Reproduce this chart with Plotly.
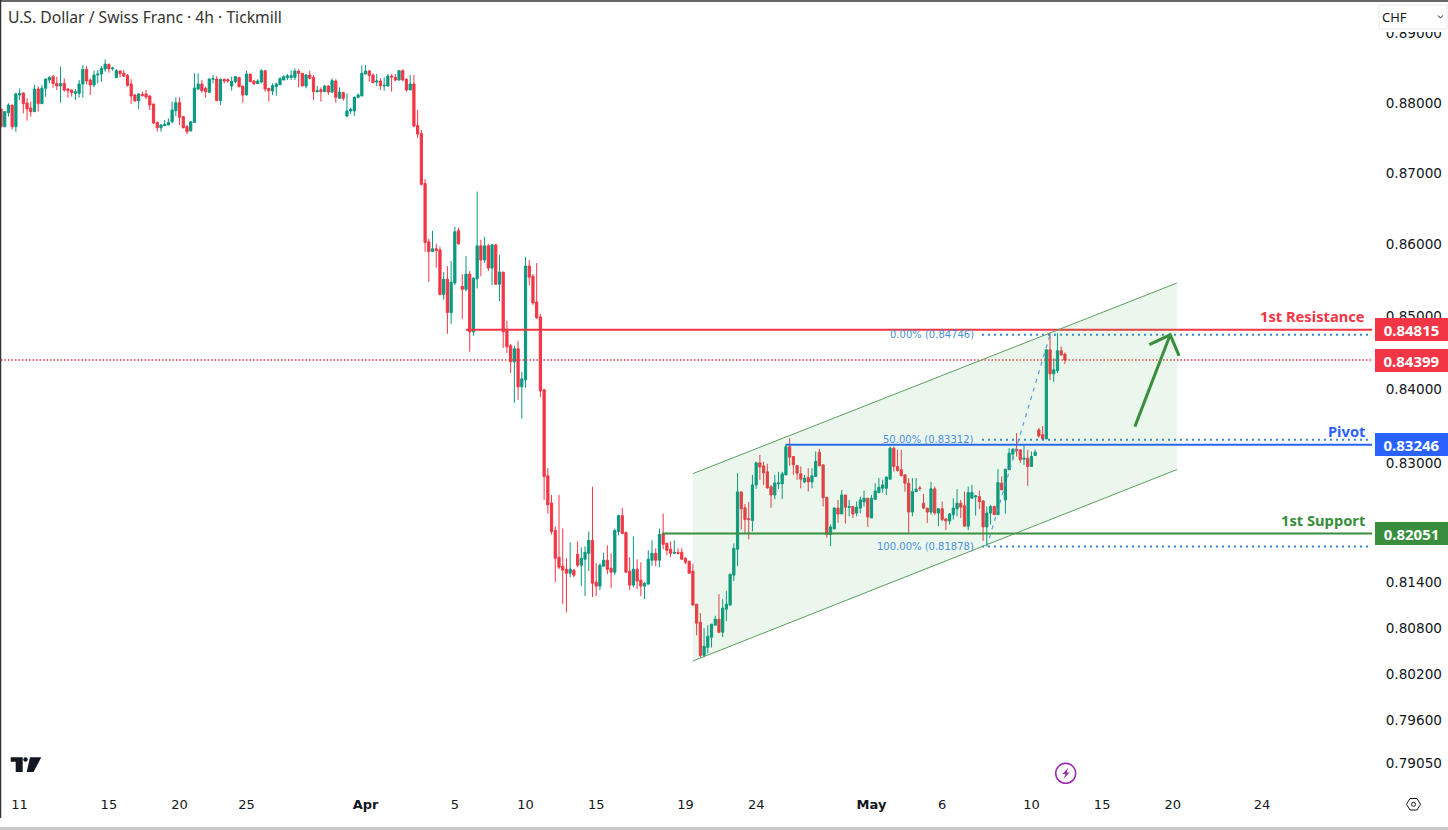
import numpy as np
import plotly.graph_objects as go

# USDCHF 4h candles
opens = [0.87914,0.87661,0.87862,0.87971,0.87661,0.88114,0.88143,0.88000,0.87928,0.87876,
0.88200,0.87990,0.88210,0.88329,0.88377,0.88281,0.88243,0.88281,0.88200,0.88186,
0.88138,0.88138,0.88272,0.88482,0.88329,0.88258,0.88401,0.88415,0.88487,0.88553,
0.88491,0.88363,0.88458,0.88425,0.88396,0.88272,0.88114,0.88033,0.88124,0.88129,
0.88100,0.87986,0.87723,0.87647,0.87676,0.87685,0.87733,0.87890,0.88005,0.87804,
0.87661,0.87604,0.87723,0.88200,0.88272,0.88210,0.88153,0.88339,0.88343,0.88033,
0.88339,0.88334,0.88243,0.88305,0.88367,0.88243,0.88114,0.88415,0.88315,0.88277,
0.88300,0.88463,0.88210,0.88172,0.88234,0.88262,0.88329,0.88363,0.88367,0.88367,
0.88458,0.88425,0.88243,0.88401,0.88367,0.88162,0.88191,0.88162,0.88243,0.88157,
0.88315,0.88067,0.88148,0.87814,0.87886,0.87886,0.88081,0.88100,0.88415,0.88458,
0.88401,0.88300,0.88315,0.88243,0.88243,0.88386,0.88367,0.88329,0.88463,0.88339,
0.88186,0.88272,0.87680,0.87566,0.86855,0.86037,0.85900,0.85938,0.85924,0.85304,
0.85515,0.85053,0.85463,0.86192,0.85416,0.85374,0.85586,0.84787,0.85520,0.85980,
0.85783,0.85980,0.85670,0.85994,0.85445,0.85614,0.84801,0.84595,0.84375,0.84554,
0.84032,0.84128,0.85698,0.85557,0.85200,0.84993,0.83991,
0.82825,0.82462,0.82093,0.81736,0.81618,0.81578,0.81525,0.81565,0.81776,0.81631,
0.81710,0.81789,0.81961,0.81406,0.81354,0.81618,0.81697,0.81591,0.81538,0.82080,
0.82291,0.82066,0.81552,0.81367,0.81578,0.81433,0.81354,0.81380,0.81697,0.81789,
0.81697,0.82053,0.81921,0.81842,0.81789,0.81802,0.81802,0.81723,0.81684,0.81552,
0.81116,0.80878,0.80443,0.80548,0.80680,0.80839,0.80918,0.80746,0.81050,0.81103,
0.81499,0.81842,0.82609,0.82396,0.82251,0.82225,0.82703,0.83000,0.82960,0.82879,
0.82677,0.82568,0.82717,0.82717,0.82838,
0.83217,0.83086,0.82964,0.82852,0.82744,0.82802,0.82744,0.82816,0.83144,0.82973,
0.82537,0.82040,0.82115,0.82392,0.82313,0.82568,0.82401,0.82414,0.82326,0.82392,
0.82476,0.82524,0.82260,0.82510,0.82600,0.82658,0.82658,0.82780,0.83199,0.82951,
0.82906,0.82839,0.82726,0.82339,0.82613,0.82663,0.82458,0.82392,0.82339,0.82650,
0.82326,0.82383,0.82247,0.82220,0.82304,0.82383,0.82458,0.82423,0.82150,0.82524,
0.82542,0.82546,0.82489,0.82141,0.82326,0.82414,0.82304,0.82726,0.82501,0.82906,
0.83117,0.83185,0.83176,0.83050,0.83063,0.82951,0.83100,
0.83445,0.83382,0.83324,0.84540,0.84210,0.84251,0.84526,0.84480]

highs = [0.87914,0.87876,0.87995,0.87971,0.88148,0.88210,0.88153,0.88067,0.88019,0.88258,
0.88234,0.88258,0.88353,0.88386,0.88401,0.88377,0.88520,0.88353,0.88210,0.88196,
0.88200,0.88329,0.88544,0.88529,0.88353,0.88463,0.88472,0.88529,0.88625,0.88568,
0.88520,0.88487,0.88472,0.88472,0.88415,0.88339,0.88129,0.88138,0.88162,0.88186,
0.88114,0.87986,0.87733,0.87699,0.87757,0.87781,0.88019,0.88081,0.88081,0.87814,
0.87685,0.87733,0.88425,0.88425,0.88329,0.88234,0.88353,0.88401,0.88386,0.88353,
0.88353,0.88353,0.88377,0.88386,0.88367,0.88243,0.88463,0.88415,0.88329,0.88339,
0.88482,0.88472,0.88210,0.88281,0.88291,0.88367,0.88401,0.88415,0.88472,0.88496,
0.88482,0.88425,0.88415,0.88463,0.88401,0.88243,0.88224,0.88258,0.88258,0.88353,
0.88339,0.88224,0.88162,0.88138,0.87938,0.88091,0.88138,0.88539,0.88544,0.88472,
0.88425,0.88415,0.88353,0.88367,0.88415,0.88415,0.88415,0.88472,0.88482,0.88353,
0.88401,0.88401,0.87900,0.87614,0.86920,0.86079,0.86192,0.86009,0.85966,0.85614,
0.85698,0.85769,0.86248,0.86234,0.85586,0.85839,0.85628,0.85543,0.86742,0.86065,
0.86107,0.86009,0.86009,0.86009,0.85854,0.85614,0.84938,0.84622,0.84595,0.84664,
0.84238,0.85825,0.85783,0.85586,0.85741,0.85035,0.84005,
0.82928,0.82568,0.82146,0.82568,0.82119,0.81723,0.81934,0.81578,0.81948,0.81868,
0.81882,0.82080,0.82677,0.81657,0.81657,0.81798,0.81895,0.81789,0.82119,0.82304,
0.82396,0.82080,0.81736,0.82014,0.81710,0.81670,0.81406,0.81829,0.81961,0.81855,
0.82119,0.82317,0.81934,0.81948,0.81961,0.81855,0.81855,0.81736,0.81684,0.81644,
0.81116,0.80997,0.80799,0.80839,0.80852,0.80962,0.81248,0.81182,0.81288,0.81512,
0.81921,0.82865,0.82609,0.82449,0.82476,0.82839,0.83014,0.83108,0.83014,0.82987,
0.82703,0.82839,0.82879,0.82879,0.83257,
0.83333,0.83086,0.82973,0.82951,0.82838,0.82928,0.82928,0.83153,0.83189,0.82973,
0.82537,0.82172,0.82405,0.82502,0.82636,0.82568,0.82502,0.82414,0.82480,0.82546,
0.82627,0.82524,0.82568,0.82726,0.82794,0.82771,0.82816,0.83221,0.83221,0.83176,
0.83176,0.82839,0.82794,0.82794,0.82794,0.82690,0.82582,0.82392,0.82739,0.82681,
0.82392,0.82480,0.82260,0.82326,0.82524,0.82645,0.82502,0.82613,0.82681,0.82703,
0.82568,0.82627,0.82489,0.82414,0.82436,0.82423,0.82915,0.82816,0.82915,0.83198,
0.83198,0.83401,0.83176,0.83243,0.83176,0.83153,0.83180,
0.83472,0.83499,0.84540,0.84770,0.84423,0.84770,0.84585,0.84502]

lows = [0.87661,0.87661,0.87804,0.87623,0.87590,0.88043,0.87852,0.87747,0.87804,0.87876,
0.87876,0.87990,0.88091,0.88281,0.88219,0.88186,0.88005,0.88162,0.88076,0.88091,
0.88043,0.88076,0.88081,0.88267,0.88114,0.88224,0.88281,0.88305,0.88448,0.88434,
0.88463,0.88363,0.88367,0.88367,0.88234,0.87986,0.88019,0.87914,0.88091,0.88057,
0.87900,0.87699,0.87590,0.87590,0.87671,0.87685,0.87709,0.87814,0.87685,0.87637,
0.87556,0.87590,0.87719,0.88186,0.88148,0.88076,0.88148,0.88281,0.88033,0.87971,
0.88281,0.88291,0.88176,0.88281,0.88224,0.88005,0.88114,0.88305,0.88253,0.88272,
0.88281,0.88162,0.88019,0.88114,0.88105,0.88253,0.88329,0.88329,0.88329,0.88329,
0.88224,0.88243,0.88210,0.88339,0.88043,0.88148,0.88019,0.88162,0.88114,0.88138,
0.88005,0.88067,0.88033,0.87795,0.87843,0.87814,0.88067,0.88100,0.88415,0.88305,
0.88291,0.88243,0.88186,0.88176,0.88234,0.88162,0.88310,0.88320,0.88315,0.88162,
0.88186,0.87652,0.87504,0.86825,0.85900,0.85478,0.85900,0.85675,0.85290,0.85233,
0.84760,0.84897,0.85430,0.85995,0.84966,0.85346,0.84513,0.84732,0.85388,0.85557,
0.85741,0.85628,0.85430,0.85445,0.85213,0.84567,0.84499,0.84224,0.83814,0.83854,
0.83598,0.84018,0.85430,0.85158,0.84966,0.83895,0.82502,
0.82317,0.82040,0.81406,0.81578,0.81116,0.81007,0.81472,0.81472,0.81604,0.81354,
0.81222,0.81552,0.81208,0.81222,0.81301,0.81618,0.81512,0.81327,0.81499,0.82027,
0.82040,0.81538,0.81301,0.81341,0.81314,0.81222,0.81182,0.81380,0.81622,0.81618,
0.81604,0.81842,0.81763,0.81736,0.81776,0.81776,0.81710,0.81644,0.81525,0.81103,
0.80707,0.80416,0.80416,0.80469,0.80548,0.80839,0.80733,0.80680,0.80892,0.81103,
0.81420,0.81618,0.82106,0.82053,0.81974,0.82080,0.82650,0.82771,0.82703,0.82650,
0.82396,0.82514,0.82650,0.82514,0.82838,
0.82960,0.82838,0.82771,0.82658,0.82726,0.82613,0.82658,0.82816,0.82960,0.82414,
0.81996,0.81886,0.82106,0.82194,0.82313,0.82185,0.82282,0.82260,0.82282,0.82326,
0.82414,0.82141,0.82260,0.82510,0.82591,0.82600,0.82568,0.82780,0.82883,0.82883,
0.82816,0.82613,0.82062,0.82282,0.82613,0.82622,0.82379,0.82194,0.82304,0.82304,
0.82150,0.82216,0.82097,0.82172,0.82238,0.82282,0.82260,0.82150,0.82097,0.82524,
0.82291,0.82379,0.81952,0.81886,0.82172,0.82304,0.82304,0.82636,0.82317,0.82906,
0.83041,0.83086,0.83000,0.82973,0.82690,0.82951,0.83095,
0.83341,0.83324,0.83324,0.84126,0.84100,0.84220,0.84456,0.84345]

closes = [0.87661,0.87876,0.87971,0.87661,0.88129,0.88138,0.87990,0.87914,0.87876,0.88200,
0.87990,0.88210,0.88343,0.88367,0.88281,0.88243,0.88281,0.88186,0.88176,0.88148,
0.88162,0.88272,0.88482,0.88315,0.88258,0.88401,0.88415,0.88496,0.88558,0.88491,
0.88501,0.88463,0.88420,0.88386,0.88253,0.88100,0.88029,0.88129,0.88110,0.88086,
0.87971,0.87714,0.87647,0.87685,0.87695,0.87723,0.87900,0.88005,0.87795,0.87647,
0.87590,0.87733,0.88215,0.88272,0.88176,0.88162,0.88343,0.88348,0.88033,0.88339,
0.88315,0.88315,0.88310,0.88377,0.88234,0.88114,0.88415,0.88305,0.88277,0.88315,
0.88463,0.88200,0.88176,0.88248,0.88272,0.88348,0.88377,0.88391,0.88391,0.88458,
0.88425,0.88243,0.88401,0.88353,0.88162,0.88176,0.88162,0.88243,0.88157,0.88320,
0.88081,0.88157,0.88067,0.87886,0.87909,0.88081,0.88114,0.88425,0.88458,0.88396,
0.88291,0.88315,0.88248,0.88253,0.88386,0.88372,0.88329,0.88463,0.88329,0.88186,
0.88272,0.87671,0.87556,0.86845,0.86027,0.85900,0.85938,0.85915,0.85304,0.85515,
0.85053,0.85473,0.86178,0.86009,0.85374,0.85586,0.84787,0.85529,0.85980,0.85783,
0.85980,0.85670,0.85994,0.85445,0.85614,0.84787,0.84581,0.84375,0.84554,0.84032,
0.84142,0.85698,0.85543,0.85186,0.84980,0.83977,0.82816,
0.82436,0.82080,0.81723,0.81604,0.81565,0.81525,0.81578,0.81499,0.81631,0.81723,
0.81802,0.81961,0.81393,0.81354,0.81631,0.81697,0.81578,0.81538,0.82093,0.82291,
0.82053,0.81538,0.81367,0.81578,0.81420,0.81354,0.81393,0.81710,0.81789,0.81697,
0.82040,0.81908,0.81829,0.81789,0.81802,0.81789,0.81710,0.81670,0.81525,0.81103,
0.80865,0.80443,0.80562,0.80694,0.80852,0.80918,0.80746,0.81063,0.81116,0.81512,
0.81855,0.82609,0.82383,0.82238,0.82238,0.82703,0.83000,0.82946,0.82865,0.82663,
0.82568,0.82730,0.82730,0.82852,0.83217,
0.83077,0.82973,0.82861,0.82780,0.82793,0.82744,0.82825,0.83019,0.82960,0.82532,
0.82040,0.82141,0.82392,0.82313,0.82568,0.82405,0.82414,0.82313,0.82405,0.82502,
0.82524,0.82273,0.82524,0.82622,0.82672,0.82703,0.82807,0.83199,0.82951,0.82897,
0.82830,0.82726,0.82339,0.82613,0.82645,0.82654,0.82392,0.82339,0.82650,0.82326,
0.82383,0.82238,0.82220,0.82313,0.82392,0.82458,0.82405,0.82150,0.82600,0.82600,
0.82555,0.82480,0.82141,0.82326,0.82414,0.82304,0.82735,0.82636,0.82915,0.83131,
0.83185,0.83167,0.83041,0.83063,0.82951,0.83086,0.83145,
0.83364,0.83324,0.84540,0.84210,0.84265,0.84526,0.84470,0.84399]

# axis labels
price_ticks = [0.89, 0.88, 0.87, 0.86, 0.85, 0.84, 0.83, 0.814, 0.808, 0.802, 0.796, 0.7905]
date_pos = [5, 29, 48, 66, 98, 122, 141, 160, 184, 203, 234, 253, 277, 296, 315, 339]
date_labels = ["11", "15", "20", "25", "<b>Apr</b>", "5", "10", "15", "19", "24", "<b>May</b>", "6", "10", "15", "20", "24"]

# levels drawn on the chart
resistance = 0.84815
pivot = 0.83246
support = 0.82051
last_price = 0.84399
fib_levels = [0.84746, 0.83312, 0.81878]
fib_labels = ["0.00% (0.84746)", "50.00% (0.83312)", "100.00% (0.81878)"]

# rising channel, bar index and price
channel_x = [186, 316.1]
channel_top = [0.82855, 0.85462]
channel_bottom = [0.80370, 0.82910]

# arrow, bar index and price
arrow_x = [304.8, 314.3, None, 308.7, 314.3, 316.7]
arrow_y = [0.83490, 0.84746, None, 0.84610, 0.84746, 0.84456]

RED = "#f23645"
TEAL = "#089981"
GREEN = "#388e3c"
BLUE = "#2962ff"
FIB = "#2f86d8"
FONT = "DejaVu Sans"
LABEL_FONT = "Noto Sans"

BAR_PX = 3.72
X_MAX = 1371 / BAR_PX
Y_RANGE = [np.log10(0.78702), np.log10(0.89471)]


def px(x):
    return (x - 1) / 1371


def py(y):
    return (790 - y) / 789


def pix_path(points, close=True):
    s = "M" + " L".join(f"{px(a):.5f},{py(b):.5f}" for a, b in points)
    return s + (" Z" if close else "")


def level_line(x0, x1, y, color, width, dash="solid"):
    return go.Scatter(x=[x0, x1], y=[y, y], mode="lines", hoverinfo="skip",
                      line=dict(color=color, width=width, dash=dash))


bars = np.arange(len(closes))
fig = go.Figure()

fig.add_trace(level_line(0, X_MAX, last_price, RED, 1.5, "1.5px,2px"))
fig.add_trace(level_line(125, X_MAX, resistance, RED, 2))
fig.add_trace(level_line(211, X_MAX, pivot, BLUE, 2))
fig.add_trace(level_line(177.8, X_MAX, support, GREEN, 2))
for lv in fib_levels:
    fig.add_trace(level_line(263.7, X_MAX, lv, FIB, 2, "2px,4px"))

# channel body over the levels, same as the original drawing order
fig.add_trace(go.Scatter(x=channel_x + channel_x[::-1], y=channel_top + channel_bottom[::-1],
                         mode="lines", fill="toself", fillcolor="rgba(76,175,80,0.11)",
                         line=dict(width=0), hoverinfo="skip"))
fig.add_trace(go.Scatter(x=channel_x, y=channel_top, mode="lines", hoverinfo="skip",
                         line=dict(color="#5ba05f", width=1)))
fig.add_trace(go.Scatter(x=channel_x, y=channel_bottom, mode="lines", hoverinfo="skip",
                         line=dict(color="#5ba05f", width=1)))

fig.add_trace(go.Candlestick(x=bars, open=opens, high=highs, low=lows, close=closes,
                             whiskerwidth=0, hoverinfo="skip",
                             increasing=dict(line=dict(color=TEAL, width=1), fillcolor=TEAL),
                             decreasing=dict(line=dict(color=RED, width=1), fillcolor=RED)))

# fib trend line, low of bar 265 to high of bar 282
fig.add_trace(go.Scatter(x=[265, 282], y=[fib_levels[2], fib_levels[0]], mode="lines",
                         hoverinfo="skip", line=dict(color="#5b9bd5", width=1.2, dash="4px,5px")))
fig.add_trace(go.Scatter(x=arrow_x, y=arrow_y, mode="lines", hoverinfo="skip",
                         line=dict(color=GREEN, width=3)))

annotations = []


def tag(level, color):
    annotations.append(dict(x=px(1375), xref="paper", y=np.log10(level), yref="y",
                            xanchor="left", yanchor="middle", showarrow=False,
                            text=f"<b>{level:.5f}</b>", width=73, height=23, align="center",
                            bgcolor=color, borderpad=0, borderwidth=0,
                            font=dict(family=LABEL_FONT, size=15, color="white")))


def line_label(text, y_px, color):
    annotations.append(dict(x=px(1366), xref="paper", y=py(y_px), yref="paper",
                            xanchor="right", yanchor="middle", showarrow=False,
                            text=f"<b>{text}</b>", borderpad=0,
                            font=dict(family=LABEL_FONT, size=14.7, color=color)))


tag(resistance, RED)
tag(last_price, RED)
tag(pivot, BLUE)
tag(support, GREEN)
line_label("1st Resistance", 316, RED)
line_label("Pivot", 431, BLUE)
line_label("1st Support", 520, GREEN)

for lv, txt in zip(fib_levels, fib_labels):
    annotations.append(dict(x=px(975), xref="paper", y=np.log10(lv), yref="y",
                            xanchor="right", yanchor="middle", showarrow=False, text=txt,
                            borderpad=0, font=dict(family=FONT, size=10, color="#4a90d9")))

annotations.append(dict(x=px(7), xref="paper", y=py(17), yref="paper", xanchor="left",
                        yanchor="middle", showarrow=False, borderpad=0,
                        text="U.S. Dollar / Swiss Franc · 4h · Tickmill",
                        font=dict(family=LABEL_FONT, size=15.7, color="#333333")))
annotations.append(dict(x=px(1380.5), xref="paper", y=py(17), yref="paper", xanchor="left",
                        yanchor="middle", showarrow=False, borderpad=0, text="CHF",
                        font=dict(family=LABEL_FONT, size=13, color="#131722")))

shapes = [
    # hides the top of the 0.89 label behind the currency box
    dict(type="rect", xref="paper", yref="paper", x0=px(1376), x1=px(1448), y0=py(2), y1=py(32),
         fillcolor="white", line=dict(width=0), layer="above"),
    # frame of the screenshot
    dict(type="line", xref="paper", yref="paper", x0=px(0), x1=px(1448), y0=py(1), y1=py(1),
         line=dict(color="#333333", width=1.5)),
    dict(type="line", xref="paper", yref="paper", x0=px(0.5), x1=px(0.5), y0=py(0), y1=py(818),
         line=dict(color="#333333", width=1.5)),
    dict(type="rect", xref="paper", yref="paper", x0=px(0), x1=px(1448), y0=py(827), y1=py(830),
         fillcolor="#c8c8c8", line=dict(width=0)),
    # CHF box
    dict(type="rect", xref="paper", yref="paper", x0=px(1379), x1=px(1447), y0=py(5), y1=py(29),
         fillcolor="white", line=dict(color="#e6e8ee", width=1), layer="above"),
    dict(type="path", xref="paper", yref="paper",
         path=pix_path([(1438, 15.5), (1440.5, 18), (1443, 15.5)], close=False),
         line=dict(color="#131722", width=1)),
    # TradingView logo
    dict(type="path", xref="paper", yref="paper", fillcolor="#131722", line=dict(width=0),
         path=pix_path([(10.7, 757.3), (22.7, 757.3), (22.7, 772), (15.7, 772), (15.7, 761.7), (10.7, 761.7)])),
    dict(type="circle", xref="paper", yref="paper", fillcolor="#131722", line=dict(width=0),
         x0=px(23.3), x1=px(27.7), y0=py(757.3), y1=py(761.7)),
    dict(type="path", xref="paper", yref="paper", fillcolor="#131722", line=dict(width=0),
         path=pix_path([(30, 757.3), (41.3, 757.3), (33.5, 772), (26.7, 772)])),
    # earnings bolt
    dict(type="circle", xref="paper", yref="paper", fillcolor="white", line=dict(color="#9c27b0", width=1.5),
         x0=px(1055.7), x1=px(1075.7), y0=py(763.3), y1=py(783.3)),
    dict(type="path", xref="paper", yref="paper", fillcolor="#9c27b0", line=dict(width=0),
         path=pix_path([(1068.5, 767.5), (1062.5, 774), (1065.5, 774), (1063.5, 779), (1069.5, 772.5), (1066.5, 772.5)])),
    # settings hexagon
    dict(type="path", xref="paper", yref="paper", line=dict(color="#131722", width=1),
         path=pix_path([(1406.5, 804.3), (1410, 798.5), (1417, 798.5), (1420.5, 804.3), (1417, 810), (1410, 810)])),
    dict(type="circle", xref="paper", yref="paper", line=dict(color="#131722", width=1),
         x0=px(1411.5), x1=px(1415.5), y0=py(802.3), y1=py(806.3)),
]

fig.update_layout(
    width=1448, height=830, autosize=False, showlegend=False,
    margin=dict(l=1, r=76, t=1, b=40, autoexpand=False),
    paper_bgcolor="white", plot_bgcolor="white",
    boxgap=0.15,
    annotations=annotations, shapes=shapes,
    xaxis=dict(range=[0, X_MAX], tickmode="array", tickvals=date_pos, ticktext=date_labels,
               showgrid=False, zeroline=False, showline=False, ticks="outside", ticklen=2,
               tickcolor="rgba(0,0,0,0)", rangeslider=dict(visible=False), tickangle=0,
               tickfont=dict(family=FONT, size=13, color="#131722")),
    yaxis=dict(type="log", range=Y_RANGE, side="right", tickmode="array", tickvals=price_ticks,
               ticktext=[f"{p:.5f}" for p in price_ticks], showgrid=False, zeroline=False, showline=False,
               ticks="outside", ticklen=10, tickcolor="rgba(0,0,0,0)",
               tickfont=dict(family=FONT, size=13.6, color="#131722")),
)

fig.write_html("out.html", config=dict(displayModeBar=False),
               post_script="document.body.style.margin='0';")
